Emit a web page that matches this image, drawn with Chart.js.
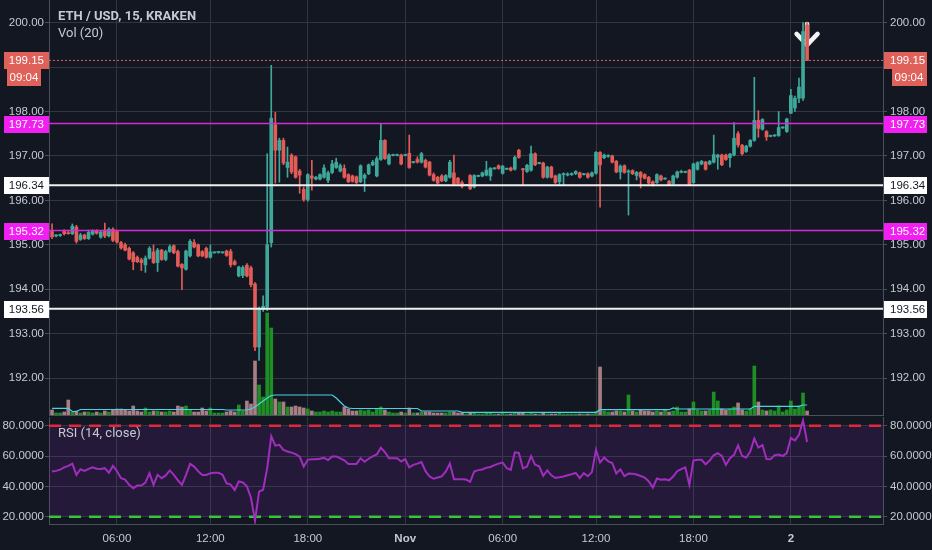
<!DOCTYPE html>
<html><head><meta charset="utf-8">
<script src="https://cdn.jsdelivr.net/npm/chart.js@4.4.1/dist/chart.umd.min.js"></script>
<style>
html,body{margin:0;padding:0;background:#131722;}
#wrap{position:relative;width:932px;height:550px;background:#131722;overflow:hidden;}
canvas{position:absolute;left:0;display:block;}
#main{top:0;}
#rsi{top:416px;}
</style></head><body>
<div id="wrap"><canvas id="main" width="932" height="416"></canvas><canvas id="rsi" width="932" height="134"></canvas></div>
<script>
// ---------- DATA ----------
const opens = [195.30,195.20,195.21,195.30,195.26,195.25,195.40,195.12,195.22,195.14,
195.24,195.32,195.17,195.33,195.20,195.35,195.30,195.05,195.00,194.92,
194.82,194.72,194.66,194.55,194.70,194.84,194.60,194.88,194.67,194.85,
194.98,194.85,194.56,194.45,194.75,195.05,195.00,194.85,194.92,194.72,
194.82,194.83,194.82,194.86,194.85,194.62,194.30,194.31,194.54,194.48,
194.12,192.70,193.55,193.60,195.05,197.70,197.13,197.35,196.74,197.02,
196.98,196.66,196.25,196.02,196.55,196.48,196.48,196.52,196.45,196.63,
196.74,196.66,196.72,196.58,196.55,196.53,196.42,196.50,196.60,196.80,
196.55,196.92,197.35,196.82,197.01,197.01,197.02,197.01,197.06,196.85,
196.92,196.86,196.90,196.86,196.58,196.52,196.55,196.44,196.52,196.62,
196.50,196.40,196.34,196.56,196.30,196.54,196.55,196.57,196.55,196.71,
196.78,196.61,196.70,196.73,196.70,197.13,196.70,196.65,196.68,197.05,
196.83,196.84,196.52,196.75,196.55,196.42,196.58,196.57,196.58,196.60,
196.62,196.58,196.60,196.55,196.61,197.08,196.96,196.99,197.00,196.88,
196.64,196.78,196.64,196.67,196.56,196.63,196.58,196.52,196.42,196.40,
196.55,196.48,196.43,196.38,196.52,196.63,196.63,196.68,196.40,196.70,
196.82,196.86,196.82,196.86,196.97,197.02,197.02,196.96,197.02,197.50,
197.24,197.10,197.22,197.35,197.80,197.60,197.55,197.44,197.45,197.46,
197.63,197.55,197.96,198.08,198.30,198.30,199.95];
const highs = [195.47,195.23,195.24,195.34,195.33,195.47,195.44,195.26,195.24,195.33,
195.34,195.34,195.31,195.49,195.38,195.38,195.33,195.08,195.04,194.95,
194.85,194.75,194.70,194.75,194.96,195.00,194.92,194.90,194.88,195.00,
195.00,194.88,194.58,194.88,195.12,195.12,195.02,194.87,194.95,195.00,
194.84,194.84,194.84,194.88,194.90,194.66,194.52,194.53,194.58,194.52,
194.15,193.60,193.85,197.05,199.04,197.98,197.40,197.40,197.20,197.05,
197.00,196.70,196.30,196.60,196.90,196.54,196.60,196.80,196.66,196.90,
196.95,196.82,196.80,196.60,196.57,196.55,196.80,196.60,196.82,196.90,
196.98,197.73,197.37,197.05,197.04,197.04,197.04,197.04,197.47,196.88,
196.98,197.08,196.93,196.88,196.62,196.54,196.58,196.58,196.90,197.02,
196.52,196.44,196.36,196.58,196.58,196.57,196.64,196.88,196.74,196.74,
196.80,196.79,196.73,196.75,197.00,197.15,196.72,196.81,197.22,197.07,
196.86,196.86,196.77,196.77,196.57,196.60,196.62,196.62,196.62,196.67,
196.64,196.61,196.62,196.64,197.10,197.10,197.04,197.03,197.02,196.90,
196.80,196.80,196.69,196.69,196.65,196.65,196.60,196.54,196.44,196.60,
196.57,196.51,196.45,196.57,196.66,196.68,196.66,196.70,196.84,196.87,
196.90,196.88,196.90,197.47,197.04,197.04,197.04,197.06,197.75,197.55,
197.26,197.24,197.37,198.77,198.02,197.84,197.57,197.47,197.48,198.00,
197.66,197.85,198.50,198.35,198.75,200.00,200.00];
const lows = [195.14,195.18,195.19,195.22,195.24,195.23,195.04,195.10,195.12,195.12,
195.22,195.24,195.15,195.16,195.18,195.07,195.04,194.90,194.86,194.66,
194.44,194.60,194.42,194.38,194.68,194.58,194.40,194.65,194.64,194.83,
194.80,194.50,193.99,194.43,194.73,194.93,194.73,194.73,194.70,194.70,
194.81,194.81,194.81,194.74,194.50,194.54,194.28,194.26,194.28,194.05,
192.62,192.40,193.50,193.52,194.95,196.39,196.41,196.80,196.52,196.60,
196.50,196.16,195.98,195.98,196.23,196.46,196.46,196.50,196.40,196.60,
196.72,196.64,196.50,196.40,196.41,196.38,196.40,196.20,196.58,196.78,
196.53,196.90,196.92,196.80,197.00,197.00,196.80,197.00,196.72,196.84,
196.84,196.84,196.73,196.55,196.43,196.37,196.42,196.42,196.50,196.35,
196.36,196.28,196.33,196.24,196.28,196.53,196.53,196.55,196.45,196.70,
196.70,196.59,196.69,196.66,196.68,196.95,196.35,196.63,196.66,196.78,
196.82,196.50,196.50,196.50,196.38,196.36,196.35,196.55,196.56,196.58,
196.50,196.57,196.50,196.53,196.59,195.85,196.94,196.97,196.84,196.62,
196.48,196.61,195.67,196.58,196.46,196.28,196.48,196.37,196.32,196.38,
196.44,196.47,196.33,196.36,196.50,196.62,196.62,196.33,196.38,196.68,
196.80,196.68,196.80,196.84,196.70,196.78,196.90,196.75,197.00,197.20,
197.02,197.08,197.20,197.33,197.42,197.58,197.35,197.43,197.44,197.44,
197.62,197.53,197.96,198.00,198.20,198.25,199.15];
const closes = [195.18,195.21,195.22,195.25,195.25,195.42,195.08,195.22,195.14,195.28,
195.32,195.26,195.29,195.20,195.35,195.10,195.06,194.93,194.88,194.68,
194.62,194.62,194.60,194.70,194.92,194.60,194.88,194.67,194.85,194.96,
194.82,194.52,194.48,194.86,195.08,194.95,194.75,194.75,194.72,194.84,
194.83,194.83,194.83,194.76,194.55,194.56,194.50,194.49,194.30,194.10,
192.70,193.55,193.62,195.00,197.85,197.13,197.35,196.84,196.86,196.64,
196.52,196.57,196.02,196.58,196.50,196.52,196.58,196.73,196.62,196.82,
196.86,196.78,196.52,196.42,196.43,196.40,196.78,196.57,196.80,196.86,
196.94,197.35,196.94,197.02,197.02,197.02,196.82,197.02,196.74,196.87,
196.86,197.05,196.75,196.57,196.45,196.39,196.44,196.56,196.86,196.37,
196.38,196.32,196.35,196.26,196.56,196.55,196.62,196.68,196.72,196.72,
196.72,196.77,196.71,196.68,196.97,196.97,196.69,196.79,197.05,196.80,
196.85,196.52,196.75,196.52,196.40,196.58,196.59,196.59,196.60,196.65,
196.52,196.59,196.52,196.62,197.08,196.80,197.02,197.01,196.86,196.64,
196.77,196.63,196.66,196.60,196.63,196.52,196.50,196.39,196.34,196.58,
196.46,196.50,196.35,196.55,196.64,196.65,196.65,196.35,196.82,196.85,
196.88,196.70,196.88,197.03,197.02,196.80,196.92,197.04,197.40,197.25,
197.05,197.22,197.35,197.80,197.62,197.82,197.43,197.46,197.47,197.64,
197.65,197.83,198.36,198.30,198.55,199.80,199.15];
const volumes = [50,20,20,30,150,30,40,20,30,30,
20,30,20,40,30,50,60,60,50,40,
90,40,30,70,30,40,40,30,30,40,
30,90,80,90,50,30,30,70,40,70,
20,20,20,30,40,30,100,40,140,110,
540,300,180,1020,870,160,130,130,80,80,
90,80,70,60,40,30,30,40,30,40,
30,30,80,60,40,40,50,40,50,30,
60,80,50,30,20,20,30,20,70,20,
20,30,30,30,20,20,20,20,30,30,
20,20,10,20,20,10,10,20,20,10,
10,20,10,10,20,20,20,10,20,10,
10,20,10,10,10,20,10,10,10,10,
10,10,10,10,30,480,40,30,30,40,
40,30,200,40,30,50,40,40,30,40,
30,50,30,40,80,30,30,60,130,50,
40,40,50,230,140,60,50,60,80,120,
50,40,60,490,130,50,40,50,40,90,
30,50,140,60,90,220,40];
const volumeMA = [67,67,67,67,67,35,35,55,55,55,
55,55,55,55,55,55,55,55,55,55,
55,55,55,55,55,55,55,55,55,55,
55,55,55,55,55,55,55,55,55,55,
55,55,55,50,50,50,50,50,50,60,
80,110,140,170,195,200,200,200,200,200,
200,200,200,200,200,200,200,200,200,200,
170,130,90,70,65,65,65,65,65,65,
65,65,65,65,65,65,65,65,65,65,
65,40,40,40,40,40,40,40,40,40,
40,27,27,27,27,27,27,27,27,27,
27,27,27,27,27,27,27,27,27,27,
27,27,27,27,27,27,27,27,27,27,
27,27,27,27,27,53,53,53,53,53,
53,53,53,53,53,53,53,53,53,53,
53,53,53,70,60,60,60,60,60,60,
60,60,60,60,60,60,60,60,60,60,
60,60,60,87,87,87,87,87,87,87,
87,87,87,87,87,100,100];
const rsi = [49.8,50.2,51,52.5,53.5,55,47.6,51.3,50.2,51.5,
52.6,51.6,51.5,52,49,53.5,50,45.4,44.5,41,
38.8,40.5,40.5,42.5,48.7,41,47.6,45.4,47.2,50.5,
47.6,44,41,47.6,54.8,53,50,47.5,47.5,48.7,
49,49,47.6,42,41.2,37.6,43.2,42.6,40,32.5,
17.3,36.5,37.8,52,73,66.8,67.4,64,63,62.2,
61.2,59.5,53.1,57.5,57.9,57.9,58.2,58.8,57.3,59.7,
59.7,58.5,57.2,54.8,54.8,54.8,58.6,56.2,58.2,59.7,
61,65.5,62.5,58.6,58.6,58.6,56.4,57.9,52.5,54.2,
55,56,50,46.5,45,45.8,46.6,49.8,55,44.7,
44.7,44.7,44.5,43,49.8,50.7,51.1,52.3,52.8,54,
55,55.7,52,50.9,62.4,62,51.8,53,60,54.2,
53.2,47,50.5,47.3,45.6,46,46.5,47.3,48,48.8,
45.4,48.7,46.7,49.4,64.1,55.7,59,56.5,55.4,48.5,
51.2,46.7,48.4,48.3,47.8,46.8,45.8,43.2,39.2,45.2,
44.4,44.6,44,46.5,50,51.3,52.5,41,57,57.5,
57.5,54.5,57,60.5,61.8,60,54.2,58.6,60.8,67,
60,59,63,71.5,65.5,67.2,58,57.9,60.5,61,
60,61.9,71.8,70.3,74,83.5,69.2];
const xTickIdx = [16,39,63,87,111,134,158,182];
const xTickLabels = ['06:00','12:00','18:00','Nov','06:00','12:00','18:00','2'];
const priceTicks = [192,193,194,195,196,197,198,199,200];
const rsiTicks = [20,40,60,80];
const rsiBands = [80,20];
const levelPrices = [199.15,197.73,196.34,195.32,193.56];
const countdownText = '09:04';
const arrowPoint = [186,199.5];
const titleText = 'ETH / USD, 15, KRAKEN';
const volText = 'Vol (20)';
const rsiText = 'RSI (14, close)';

// ---------- STYLE ----------
const X_MIN=-0.75, X_MAX=204.7;
const P_MIN=191.17, P_MAX=200.51;
const V_MAX=4150;
const R_MIN=15.2, R_MAX=85.7;
const BG='#131722', GRID='#31363f', BORDER='#4b505c', TXT='#c6c9d0';
const UP='#3ea89b', DOWN='#e35c57', VUP='#1e8f24', VDOWN='#a87d84';
const FONT="'Liberation Sans', Arial, sans-serif";
const levelStyle = [
  {line:'#e0605a', w:1, dash:[2,2], box:'#e0605a', fg:'#ffffff'},
  {line:'#d62ad6', w:1.5, dash:[], box:'#f21ff2', fg:'#ffffff'},
  {line:'#f0f0f0', w:2, dash:[], box:'#ffffff', fg:'#131722'},
  {line:'#d62ad6', w:1.5, dash:[], box:'#f21ff2', fg:'#ffffff'},
  {line:'#f0f0f0', w:2, dash:[], box:'#ffffff', fg:'#131722'}
];
const xTickBold = [false,false,false,true,false,false,false,true];

Chart.defaults.font.family = FONT;
Chart.defaults.font.size = 11.5;
Chart.defaults.color = TXT;
Chart.defaults.animation = false;
Chart.defaults.plugins.legend.display = false;
Chart.defaults.plugins.tooltip.enabled = false;

const idx = closes.map((_, i) => i);
const up = i => closes[i] >= opens[i];
const noPad = s => { s.paddingTop = 0; s.paddingBottom = 0; s.paddingLeft = 0; s.paddingRight = 0; };
const fitV = w => s => { s.width = w; noPad(s); };
const fitH = h => s => { s.height = h; noPad(s); };

const levelDatasets = levelPrices.map((p, k) => ({
  type:'line', yAxisID:'y', data:[{x:X_MIN,y:p},{x:X_MAX,y:p}],
  borderColor:levelStyle[k].line, borderWidth:levelStyle[k].w, borderDash:levelStyle[k].dash,
  pointRadius:0, order:0
}));

const bgPlugin = {
  id:'bg',
  beforeDraw(chart){ const c=chart.ctx; c.save(); c.fillStyle=BG; c.fillRect(0,0,chart.width,chart.height); c.restore(); }
};

const mainOverlay = {
  id:'mainOverlay',
  beforeDatasetsDraw(chart){
    const c=chart.ctx;
    const x=chart.scales.x.getPixelForValue(arrowPoint[0]);
    const y=chart.scales.y.getPixelForValue(arrowPoint[1]);
    c.save();
    c.strokeStyle='rgba(255,255,255,0.95)'; c.lineWidth=4.5; c.lineCap='round'; c.lineJoin='round';
    c.beginPath(); c.moveTo(x-10.5,y-11); c.lineTo(x,y); c.lineTo(x+10.5,y-11); c.stroke();
    c.beginPath(); c.moveTo(x,y-21); c.lineTo(x,y); c.stroke();
    c.restore();
  },
  afterDraw(chart){
    const c=chart.ctx, ys=chart.scales.y;
    c.save();
    c.fillStyle=TXT; c.textBaseline='middle'; c.textAlign='left';
    c.font="bold 13px Roboto, "+FONT; c.fillText(titleText,58,17);
    c.font="13px Roboto, "+FONT; c.fillText(volText,58,34);
    c.font="11.5px "+FONT;
    levelPrices.forEach((p,k)=>{
      const py=Math.round(ys.getPixelForValue(p));
      const st=levelStyle[k];
      c.fillStyle=st.box;
      c.fillRect(4,py-8,45,17);
      c.fillRect(884,py-8,43,17);
      c.fillStyle=st.fg;
      c.textAlign='right'; c.fillText(p.toFixed(2),44,py+1);
      c.textAlign='left'; c.fillText(p.toFixed(2),890,py+1);
      if(k===0){
        c.fillStyle=st.box;
        c.fillRect(7,py+9,34,17);
        c.fillRect(892,py+9,35,17);
        c.fillStyle=st.fg; c.textAlign='center';
        c.fillText(countdownText,24,py+18);
        c.fillText(countdownText,909,py+18);
      }
    });
    c.restore();
  }
};

new Chart(document.getElementById('main'), {
  type:'bar',
  data:{datasets:[
    {type:'bar', yAxisID:'yv', data:idx.map(i=>({x:i,y:volumes[i]})),
     backgroundColor:idx.map(i=>up(i)?VUP:VDOWN), barThickness:3, grouped:false, order:10},
    {type:'line', yAxisID:'yv', data:idx.map(i=>({x:i,y:volumeMA[i]})),
     borderColor:'#46d4e4', borderWidth:1.2, pointRadius:0, order:9},
    ...levelDatasets,
    {type:'bar', yAxisID:'y', data:idx.map(i=>({x:i,y:[lows[i],highs[i]]})),
     backgroundColor:idx.map(i=>up(i)?UP:DOWN), barThickness:1, grouped:false, order:2},
    {type:'bar', yAxisID:'y', data:idx.map(i=>({x:i,y:[opens[i],closes[i]]})),
     backgroundColor:idx.map(i=>up(i)?UP:DOWN), barThickness:3, minBarLength:1, grouped:false, order:1}
  ]},
  options:{
    responsive:false, maintainAspectRatio:false, devicePixelRatio:1,
    layout:{padding:{left:0,right:0,top:0,bottom:1}},
    scales:{
      x:{type:'linear', min:X_MIN, max:X_MAX, offset:false,
         afterBuildTicks:s=>{s.ticks=xTickIdx.map(v=>({value:v}));},
         afterFit:fitH(0),
         ticks:{display:false}, grid:{color:GRID, drawTicks:false, offset:false},
         border:{display:true,color:BORDER}},
      y:{type:'linear', position:'left', min:P_MIN, max:P_MAX,
         afterBuildTicks:s=>{s.ticks=priceTicks.map(v=>({value:v}));},
         afterFit:fitV(49),
         ticks:{padding:1, color:TXT, callback:v=>v===199?'':Number(v).toFixed(2)},
         grid:{color:GRID, tickLength:4, tickColor:BORDER}, border:{color:BORDER}},
      y2:{type:'linear', position:'right', min:P_MIN, max:P_MAX,
         afterBuildTicks:s=>{s.ticks=priceTicks.map(v=>({value:v}));},
         afterFit:fitV(49),
         ticks:{padding:3, color:TXT, callback:v=>v===199?'':Number(v).toFixed(2)},
         grid:{drawOnChartArea:false, tickLength:4, tickColor:BORDER}, border:{color:BORDER}},
      yv:{type:'linear', display:false, min:0, max:V_MAX, afterFit:noPad}
    }
  },
  plugins:[bgPlugin, mainOverlay]
});

const rsiOverlay = {
  id:'rsiOverlay',
  afterDraw(chart){
    const c=chart.ctx; c.save();
    c.fillStyle=TXT; c.font="13px Roboto, "+FONT; c.textBaseline='middle'; c.textAlign='left';
    c.fillText(rsiText,58,18);
    c.restore();
  }
};

new Chart(document.getElementById('rsi'), {
  type:'line',
  data:{datasets:[
    {data:[{x:X_MIN,y:rsiBands[0]},{x:X_MAX,y:rsiBands[0]}], borderColor:'#e3263a', borderWidth:2.5,
     borderDash:[12,8], pointRadius:0, fill:'+1', backgroundColor:'rgba(150,45,205,0.14)', order:3},
    {data:[{x:X_MIN,y:rsiBands[1]},{x:X_MAX,y:rsiBands[1]}], borderColor:'#2fd12f', borderWidth:2.5,
     borderDash:[12,8], pointRadius:0, fill:false, order:3},
    {data:idx.map(i=>({x:i,y:rsi[i]})), borderColor:'#a12dbe', borderWidth:2, pointRadius:0, tension:0, order:1}
  ]},
  options:{
    responsive:false, maintainAspectRatio:false, devicePixelRatio:1,
    layout:{padding:{left:0,right:0,top:1,bottom:0}},
    scales:{
      x:{type:'linear', min:X_MIN, max:X_MAX, offset:false,
         afterBuildTicks:s=>{s.ticks=xTickIdx.map(v=>({value:v}));},
         afterFit:fitH(26),
         ticks:{autoSkip:false, maxRotation:0, padding:8, color:TXT,
                callback:(v,i)=>xTickLabels[i],
                font:(ctx)=>({family:FONT, size:11.5, weight: xTickBold[ctx.index] ? 'bold' : 'normal'})},
         grid:{color:GRID, drawTicks:false}, border:{display:true,color:BORDER}},
      y:{type:'linear', position:'left', min:R_MIN, max:R_MAX,
         afterBuildTicks:s=>{s.ticks=rsiTicks.map(v=>({value:v}));},
         afterFit:fitV(49),
         ticks:{padding:1, color:TXT, callback:v=>Number(v).toFixed(4)},
         grid:{color:GRID, tickLength:4, tickColor:BORDER}, border:{color:BORDER}},
      y2:{type:'linear', position:'right', min:R_MIN, max:R_MAX,
         afterBuildTicks:s=>{s.ticks=rsiTicks.map(v=>({value:v}));},
         afterFit:fitV(49),
         ticks:{padding:3, color:TXT, callback:v=>Number(v).toFixed(4)},
         grid:{drawOnChartArea:false, tickLength:4, tickColor:BORDER}, border:{color:BORDER}}
    }
  },
  plugins:[bgPlugin, rsiOverlay]
});
</script>
</body></html>
